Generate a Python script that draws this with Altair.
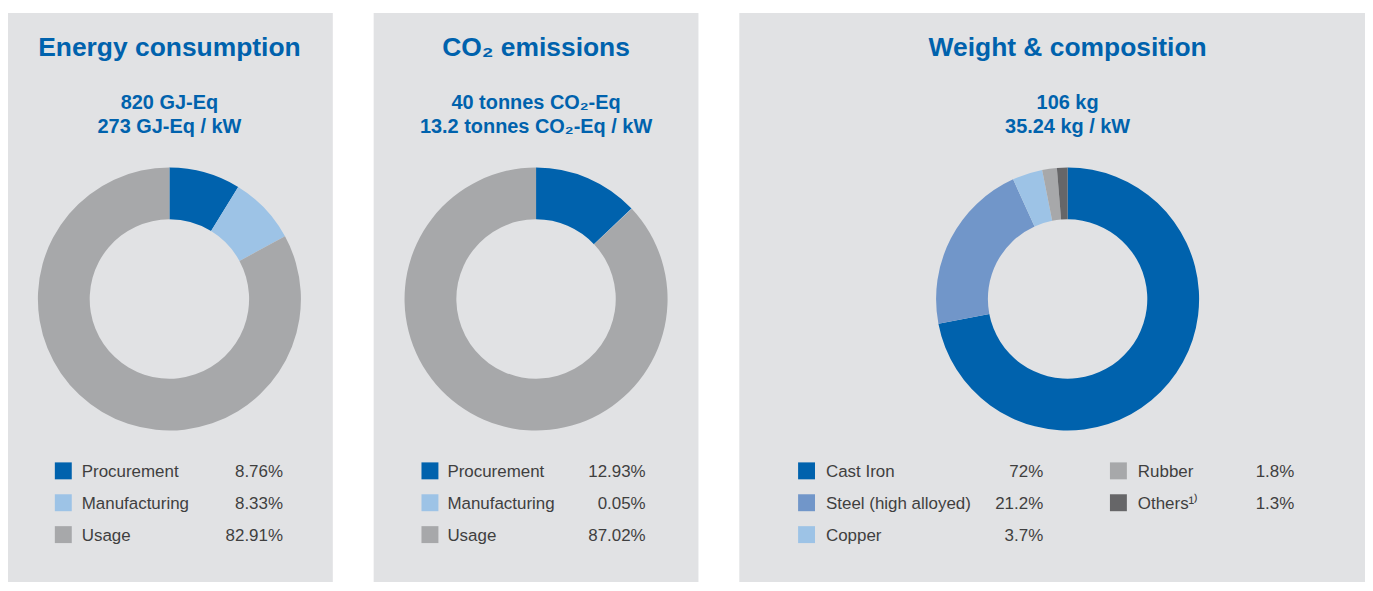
import altair as alt
import pandas as pd

# ---------------- data ----------------
energy_cats = ["Procurement", "Manufacturing", "Usage"]
energy_vals = [8.76, 8.33, 82.91]
energy_lbls = ["8.76%", "8.33%", "82.91%"]
energy_cols = ["#0062ad", "#9dc3e6", "#a7a8aa"]

co2_cats = ["Procurement", "Manufacturing", "Usage"]
co2_vals = [12.93, 0.05, 87.02]
co2_lbls = ["12.93%", "0.05%", "87.02%"]
co2_cols = ["#0062ad", "#9dc3e6", "#a7a8aa"]

weight_cats = ["Cast Iron", "Steel (high alloyed)", "Copper", "Rubber", "Others¹⁾"]
weight_vals = [72, 21.2, 3.7, 1.8, 1.3]
weight_lbls = ["72%", "21.2%", "3.7%", "1.8%", "1.3%"]
weight_cols = ["#0062ad", "#7196c9", "#9dc3e6", "#a7a8aa", "#666668"]

titles = ["Energy consumption", "CO₂ emissions", "Weight & composition"]
subtitles = [
    ["820 GJ-Eq", "273 GJ-Eq / kW"],
    ["40 tonnes CO₂-Eq", "13.2 tonnes CO₂-Eq / kW"],
    ["106 kg", "35.24 kg / kW"],
]

BLUE = "#0062ad"
TXT = "#3f3f3f"
BG = "#e1e2e4"
FONT = "Liberation Sans"
H = 571


def frame(cats, vals, lbls, cols):
    n = len(cats)
    return pd.DataFrame({
        "cat": cats, "value": vals, "lbl": lbls, "color": cols,
        "idx": list(range(n)),
        "row": [i % 3 for i in range(n)],
        "col": [i // 3 for i in range(n)],
    })


def panel(df, title, subs, width, cx, legend_cols):
    base = alt.Chart(df)
    donut = base.mark_arc(innerRadius=80, radius=132).encode(
        theta=alt.Theta("value:Q", stack=True),
        color=alt.Color("color:N", scale=None, legend=None),
        order=alt.Order("idx:Q", sort="ascending"),
        x=alt.value(cx), y=alt.value(287),
    )
    ttl = alt.Chart(pd.DataFrame({"t": [title]})).mark_text(
        font=FONT, fontSize=26.5, fontWeight="bold", color=BLUE,
        align="center", baseline="alphabetic"
    ).encode(text="t:N", x=alt.value(cx), y=alt.value(43))
    layers = [donut, ttl]
    for s, yy in zip(subs, [96, 120]):
        layers.append(alt.Chart(pd.DataFrame({"t": [s]})).mark_text(
            font=FONT, fontSize=20, fontWeight="bold", color=BLUE,
            align="center", baseline="alphabetic"
        ).encode(text="t:N", x=alt.value(cx), y=alt.value(yy)))
    yrow = alt.Y("row:Q", scale=alt.Scale(domain=[0, 2], range=[459.5, 523.5]), axis=None)
    for c, (sq_x, lab_x, val_x) in enumerate(legend_cols):
        b = base.transform_filter(alt.datum.col == c)
        layers.append(b.mark_square(size=289, opacity=1, filled=True).encode(
            x=alt.value(sq_x), y=yrow,
            color=alt.Color("color:N", scale=None, legend=None),
        ))
        layers.append(b.mark_text(
            font=FONT, fontSize=17, color=TXT, align="left", baseline="middle", dy=1
        ).encode(text="cat:N", x=alt.value(lab_x), y=yrow))
        layers.append(b.mark_text(
            font=FONT, fontSize=17, color=TXT, align="right", baseline="middle", dy=1
        ).encode(text="lbl:N", x=alt.value(val_x), y=yrow))
    return alt.layer(*layers).properties(width=width, height=H)


p1 = panel(frame(energy_cats, energy_vals, energy_lbls, energy_cols),
           titles[0], subtitles[0], 326, 162, [(55.5, 74, 276)])
p2 = panel(frame(co2_cats, co2_vals, co2_lbls, co2_cols),
           titles[1], subtitles[1], 326, 163, [(56.5, 74, 273)])
p3 = panel(frame(weight_cats, weight_vals, weight_lbls, weight_cols),
           titles[2], subtitles[2], 628, 329.5, [(67.5, 87, 305), (380.5, 400, 557)])

chart = alt.hconcat(p1, p2, p3, spacing=41).properties(
    padding={"left": 0, "top": 4, "right": 0, "bottom": 0},
    background="white",
).configure_view(fill=BG, stroke=None)

chart.save("out.html", embed_options={"renderer": "svg", "actions": False})
